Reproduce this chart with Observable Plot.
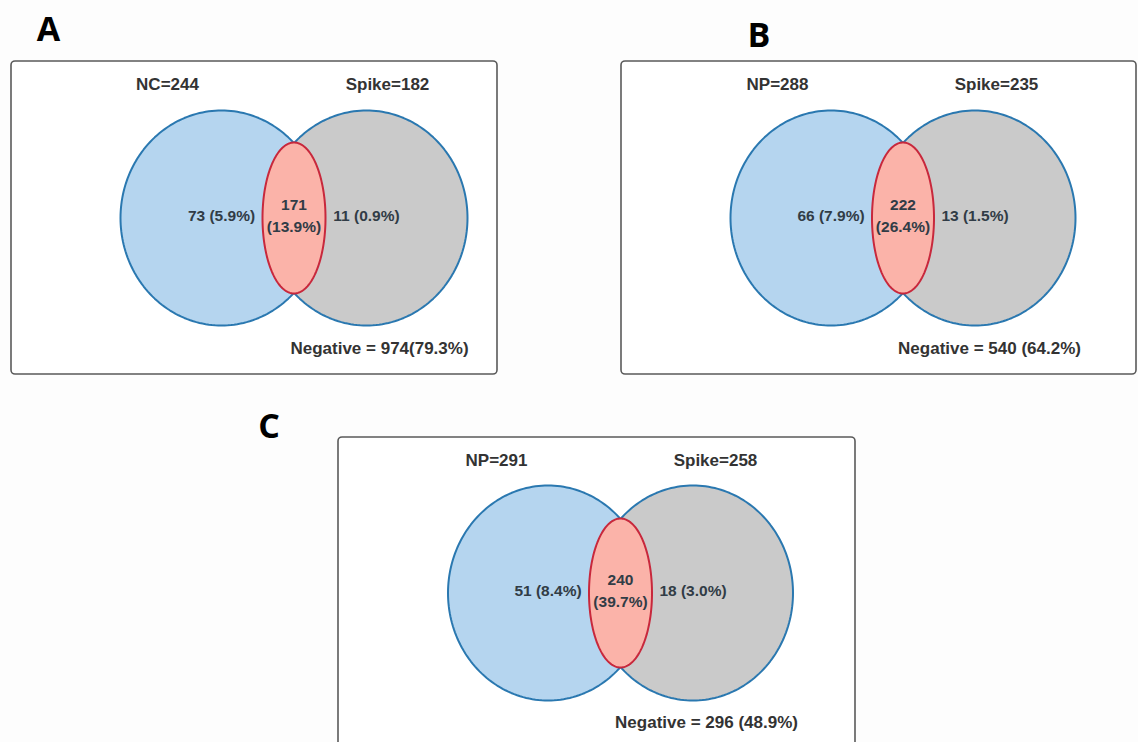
<!DOCTYPE html>
<html><head><meta charset="utf-8">
<script src="https://cdn.jsdelivr.net/npm/d3@7"></script>
<script src="https://cdn.jsdelivr.net/npm/@observablehq/plot@0.6"></script>
<style>
html,body{margin:0;padding:0;background:#fdfdfd;}
#chart{position:relative;width:1138px;height:742px;overflow:hidden;}
</style></head><body><div id="chart"></div>
<script>
// ---- data ----
const panels = ["A", "B", "C"];
const leftSet = ["NC", "NP", "NP"];
const leftTotal = [244, 288, 291];
const rightSet = ["Spike", "Spike", "Spike"];
const rightTotal = [182, 235, 258];
const leftOnly = [73, 66, 51];
const leftOnlyPct = [5.9, 7.9, 8.4];
const overlap = [171, 222, 240];
const overlapPct = [13.9, 26.4, 39.7];
const rightOnly = [11, 13, 18];
const rightOnlyPct = [0.9, 1.5, 3.0];
const negative = [974, 540, 296];
const negativePct = [79.3, 64.2, 48.9];
const negativeSep = ["", " ", " "];

// ---- layout (pixels) ----
const layout = [
  {tag: [48, 29.5], box: [11, 61, 497, 374], cy: 217.5, ry: 107.5, cxL: 221, cxR: 366, rx: 101, lrx: 31.5, lry: 75.5, tL: [167, 84.5], tR: [387, 84.5], neg: [379, 348]},
  {tag: [758.5, 35.5], box: [621, 61, 1136, 374], cy: 217.5, ry: 107.5, cxL: 830.5, cxR: 974.5, rx: 100.5, lrx: 31, lry: 75.5, tL: [777, 84.5], tR: [996, 84.5], neg: [989, 348]},
  {tag: [268.5, 426.5], box: [338, 437, 855, 770], cy: 592.5, ry: 107.5, cxL: 547.5, cxR: 692.5, rx: 100, lrx: 31.5, lry: 74.5, tL: [496, 460.5], tR: [715, 460.5], neg: [706, 722.5]}
];

const fmt = v => v.toFixed(1);
function ellipse(panel, cx, cy, rx, ry, n = 200) {
  return d3.range(n).map(i => {
    const t = (i / n) * 2 * Math.PI;
    return {panel, x: cx + rx * Math.cos(t), y: cy + ry * Math.sin(t)};
  });
}

const boxes = panels.map((p, i) => ({panel: p, x1: layout[i].box[0], y1: layout[i].box[1], x2: layout[i].box[2], y2: layout[i].box[3]}));
const leftShapes = panels.flatMap((p, i) => ellipse(p, layout[i].cxL, layout[i].cy, layout[i].rx, layout[i].ry));
const rightShapes = panels.flatMap((p, i) => ellipse(p, layout[i].cxR, layout[i].cy, layout[i].rx, layout[i].ry));
const lensShapes = panels.flatMap((p, i) => ellipse(p, (layout[i].cxL + layout[i].cxR) / 2, layout[i].cy, layout[i].lrx, layout[i].lry));

const tags = panels.map((p, i) => ({text: p, x: layout[i].tag[0], y: layout[i].tag[1]}));
const titles = panels.flatMap((p, i) => [
  {text: `${leftSet[i]}=${leftTotal[i]}`, x: layout[i].tL[0], y: layout[i].tL[1]},
  {text: `${rightSet[i]}=${rightTotal[i]}`, x: layout[i].tR[0], y: layout[i].tR[1]},
  {text: `Negative = ${negative[i]}${negativeSep[i]}(${fmt(negativePct[i])}%)`, x: layout[i].neg[0], y: layout[i].neg[1]}
]);
const inner = panels.flatMap((p, i) => [
  {text: `${leftOnly[i]} (${fmt(leftOnlyPct[i])}%)`, x: layout[i].cxL, y: layout[i].cy - 4},
  {text: `${rightOnly[i]} (${fmt(rightOnlyPct[i])}%)`, x: layout[i].cxR, y: layout[i].cy - 4},
  {text: `${overlap[i]}\n(${fmt(overlapPct[i])}%)`, x: (layout[i].cxL + layout[i].cxR) / 2, y: layout[i].cy - 4}
]);

const font = "'Liberation Sans', Arial, sans-serif";
const chart = Plot.plot({
  width: 1138,
  height: 742,
  margin: 0,
  x: {domain: [0, 1138], range: [0, 1138], axis: null},
  y: {domain: [0, 742], range: [0, 742], axis: null},
  style: {background: "transparent", overflow: "visible"},
  marks: [
    Plot.rect(boxes, {x1: "x1", y1: "y1", x2: "x2", y2: "y2", fill: "#ffffff", stroke: "#5a5a5a", strokeWidth: 1.6, rx: 4}),
    Plot.line(leftShapes, {x: "x", y: "y", z: "panel", curve: "linear-closed", fill: "#b5d5ef", stroke: "#2a78b0", strokeWidth: 2}),
    Plot.line(rightShapes, {x: "x", y: "y", z: "panel", curve: "linear-closed", fill: "#cacaca", stroke: "#2a78b0", strokeWidth: 2}),
    Plot.line(lensShapes, {x: "x", y: "y", z: "panel", curve: "linear-closed", fill: "#fbb3a9", stroke: "#c8283c", strokeWidth: 2}),
    Plot.text(tags, {x: "x", y: "y", text: "text", fontSize: 34, fontWeight: "bold", fontFamily: "'Open Sans', sans-serif", fill: "#000"}),
    Plot.text(titles, {x: "x", y: "y", text: "text", fontSize: 17, fontWeight: "bold", fontFamily: font, fill: "#333"}),
    Plot.text(inner, {x: "x", y: "y", text: "text", fontSize: 15.5, fontWeight: "bold", fontFamily: font, fill: "#313c46", lineHeight: 1.4})
  ]
});
document.getElementById("chart").appendChild(chart);
</script>
</body></html>
